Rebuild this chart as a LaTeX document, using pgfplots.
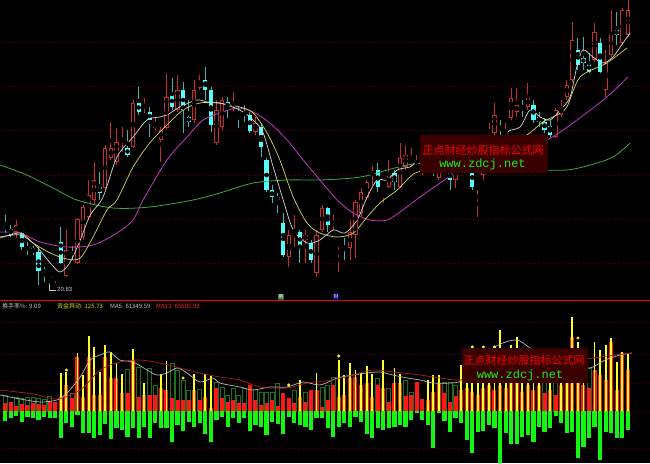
\documentclass[border=0pt]{standalone}
\usepackage{pgfplots}
\pgfplotsset{compat=1.18}
\usepackage{pgfplotstable}
\usepackage{fontspec}
\setmainfont{Liberation Sans}
\newfontfamily\cjk{Noto Sans CJK SC}
\newfontfamily\mono{Liberation Mono}
\definecolor{upred}{RGB}{196,46,46}
\definecolor{dncyan}{RGB}{84,252,252}
\definecolor{wickcyan}{RGB}{64,180,180}
\definecolor{gridred}{RGB}{84,0,0}
\definecolor{maw}{RGB}{215,215,215}
\definecolor{may}{RGB}{215,215,90}
\definecolor{mam}{RGB}{195,55,195}
\definecolor{mag}{RGB}{60,170,60}
\definecolor{vred}{RGB}{255,24,24}
\definecolor{vgreen}{RGB}{20,245,20}
\definecolor{vyel}{RGB}{255,255,40}
\definecolor{voutg}{RGB}{30,110,30}
\definecolor{vmared}{RGB}{170,30,30}
\definecolor{wmbg}{RGB}{58,0,0}
\definecolor{lblgray}{RGB}{200,200,200}

% up (red, hollow) candles: index, high, low, body top, body bottom (pixel rows)
\pgfplotstableread{
x hi lo bt bb
2 220 238 225 232
9 275 283 276 278
11 230 277 250 276
13 218 264 219 263
14 205 240 207 237
15 180 220 195 217
16 162 205 180 200
18 145 190 148 188
19 122 160 148 158
20 128 165 142 162
21 127 152 140 142
23 100 148 103 147
25 98 113 106 107
27 118 130 123 128
28 127 162 130 140
29 73 130 97 128
31 75 112 90 110
34 80 123 90 120
35 75 90 82 88
38 100 145 110 143
39 97 130 100 127
41 92 116 112 115
45 117 135 123 132
51 230 267 235 257
52 215 247 233 237
54 230 263 235 240
56 230 277 235 273
57 205 232 208 230
59 215 230 223 225
60 247 272 252 253
62 220 260 232 248
63 200 258 202 235
64 188 216 192 213
65 180 200 182 198
66 162 185 163 165
68 188 203 190 191
69 160 188 173 187
71 143 188 158 187
72 145 170 155 167
73 148 167 160 163
74 155 170 167 168
75 152 175 160 173
76 148 172 155 168
78 160 180 165 178
79 150 172 160 170
81 160 188 165 180
82 150 170 158 168
83 148 168 155 165
85 190 217 196 198
86 158 180 165 175
87 123 140 132 137
88 103 135 115 133
90 123 140 133 137
91 88 120 98 118
92 88 117 105 112
94 83 110 97 107
99 108 138 110 137
100 100 117 107 115
101 80 100 85 97
102 22 82 40 80
106 23 62 32 60
108 50 97 63 90
109 10 57 32 55
111 8 45 10 43
112 0 37 10 35
}\upc

% down (cyan, filled) candles
\pgfplotstableread{
x hi lo bt bb
0 215 233 226 229
1 225 237 229 235
3 232 250 233 247
4 242 255 247 249
5 246 255 248 252
6 247 285 252 271
7 267 282 270 273
8 275 287 276 278
10 227 264 242 263
12 246 260 252 255
17 172 200 187 193
22 130 157 148 155
24 87 115 103 112
26 107 137 112 120
30 78 110 95 107
32 82 133 90 110
33 100 127 117 122
36 67 100 80 90
37 87 132 90 125
40 97 118 102 108
42 107 128 113 114
43 105 122 113 115
44 112 133 115 131
46 123 157 127 147
47 158 192 160 190
48 185 203 190 197
49 193 213 197 200
50 213 257 223 255
53 230 263 232 247
55 240 263 243 260
58 207 232 208 225
61 238 260 247 248
67 163 192 170 187
70 170 190 173 182
77 165 176 170 173
80 162 190 170 180
84 165 190 168 187
89 120 135 127 130
93 100 117 106 108
95 100 123 105 120
96 112 127 117 122
97 118 133 122 130
98 120 137 126 135
103 38 70 50 65
104 37 70 58 63
105 53 73 63 72
107 38 73 43 72
110 12 45 30 35
}\dnc

% lower panel: green (outflow), red, yellow, dark-green outline
\pgfplotstableread{
x g r yl ol
0 -10 8 nan 16
1 -7 9 nan nan
2 -5 5 nan 14
3 -11 7 nan 13
4 -6 6 nan 14
5 -7 8 nan 14
6 -9 7 nan 13
7 -6 6 nan 12
8 -7 9 nan 15
9 -7 9 nan nan
10 -27 14 38 nan
11 -12 26 39 nan
12 -16 13 nan 18
13 -4 54 58 nan
14 -22 14 36 nan
15 -22 54 75 nan
16 -27 16 64 nan
17 -24 16 39 nan
18 -13 54 66 nan
19 -28 33 59 nan
20 -17 33 48 nan
21 -19 18 37 nan
22 -26 18 nan 42
23 -17 51 62 nan
24 -27 14 nan 44
25 -16 16 28 nan
26 -27 16 nan 43
27 -12 16 nan 26
28 -17 23 37 nan
29 -17 21 50 nan
30 -31 13 nan 48
31 -14 11 nan 41
32 -20 11 nan 31
33 -11 11 nan 21
34 -16 21 37 nan
35 -12 11 nan 22
36 -23 14 37 nan
37 -31 3 35 nan
38 -9 23 nan 29
39 -6 13 nan 24
40 -16 9 nan 16
41 -7 11 nan 23
42 -12 8 nan 16
43 -7 8 nan 23
44 -20 26 nan nan
45 -14 11 nan 22
46 -16 6 nan 19
47 -24 8 nan 19
48 -11 11 nan 19
49 -13 5 nan 28
50 -23 18 nan nan
51 -6 13 nan nan
52 -12 8 nan 21
53 -14 14 31 nan
54 -16 9 nan 19
55 -19 21 nan nan
56 -7 21 38 nan
57 -7 4 nan 24
58 -17 11 nan 26
59 -26 26 nan 34
60 -16 14 51 nan
61 -12 16 36 nan
62 -16 33 48 nan
63 -6 34 41 nan
64 -11 26 38 nan
65 -23 28 45 nan
66 -27 14 37 nan
67 -17 26 nan 33
68 -19 23 51 nan
69 -17 9 nan 23
70 -16 28 43 nan
71 -14 28 37 nan
72 -16 15 nan 31
73 -9 16 nan 19
74 -2 29 nan nan
75 -9 12 nan nan
76 -14 11 31 nan
77 -37 19 36 nan
78 -2 28 36 nan
79 -10 18 nan 29
80 -21 9 nan 29
81 -7 15 nan 26
82 -12 21 46 nan
83 -29 23 56 nan
84 -42 19 61 nan
85 -21 16 51 nan
86 -20 23 59 nan
87 -14 26 53 nan
88 -17 21 61 nan
89 -52 26 81 nan
90 -22 23 56 nan
91 -33 31 66 nan
92 -33 28 74 nan
93 -26 19 56 nan
94 -24 26 63 nan
95 -31 21 53 nan
96 -16 26 46 nan
97 -21 18 nan 39
98 -17 21 43 nan
99 -5 16 nan 33
100 -12 26 49 nan
101 -22 28 53 nan
102 -21 74 94 nan
103 -47 31 69 nan
104 -36 26 61 nan
105 -27 23 nan 43
106 -16 41 69 nan
107 -49 36 61 nan
108 -21 31 66 nan
109 -22 69 73 nan
110 -27 21 49 nan
111 -27 58 59 nan
112 -19 41 58 nan
}\vol

\begin{document}
\begin{tikzpicture}
\useasboundingbox (0,0) rectangle (650pt,463pt);
\fill[black] (0,0) rectangle (650pt,463pt);

% ---------------- price panel ----------------
\begin{axis}[at={(0pt,165pt)}, anchor=south west, scale only axis,
  width=650pt, height=298pt, xmin=-0.935, xmax=115.97, ymin=0, ymax=298,
  y dir=reverse, axis line style={draw=none}, xtick=\empty,
  ytick={42,86,130,175,219,263}, yticklabels={}, major tick length=0pt,
  ymajorgrids, grid style={gridred, line width=0.6pt, dash pattern=on 1pt off 1.5pt}]
% wicks
\addplot[only marks, mark=none, error bars/.cd, y dir=both, y explicit, error mark=none,
  error bar style={draw=upred, line width=0.8pt}]
  table[x=x, y expr={(\thisrow{hi}+\thisrow{lo})/2}, y error expr={(\thisrow{lo}-\thisrow{hi})/2}] {\upc};
\addplot[only marks, mark=none, error bars/.cd, y dir=both, y explicit, error mark=none,
  error bar style={draw=wickcyan, line width=0.8pt}]
  table[x=x, y expr={(\thisrow{hi}+\thisrow{lo})/2}, y error expr={(\thisrow{lo}-\thisrow{hi})/2}] {\dnc};
% bodies
\addplot[only marks, mark=none, error bars/.cd, y dir=both, y explicit, error mark=none,
  error bar style={draw=upred, line width=4.2pt}]
  table[x=x, y expr={(\thisrow{bt}+\thisrow{bb})/2}, y error expr={max((\thisrow{bb}-\thisrow{bt})/2,0.6)}] {\upc};
\addplot[only marks, mark=none, error bars/.cd, y dir=both, y explicit, error mark=none,
  error bar style={draw=black, line width=2.4pt}]
  table[x=x, y expr={(\thisrow{bt}+\thisrow{bb})/2}, y error expr={max((\thisrow{bb}-\thisrow{bt})/2-0.9,0)}] {\upc};
\addplot[only marks, mark=none, error bars/.cd, y dir=both, y explicit, error mark=none,
  error bar style={draw=dncyan, line width=4.2pt}]
  table[x=x, y expr={(\thisrow{bt}+\thisrow{bb})/2}, y error expr={max((\thisrow{bb}-\thisrow{bt})/2,0.6)}] {\dnc};
% moving averages
\addplot[mag, line width=0.8pt, smooth, tension=0.5] coordinates {
(-0.9,165) (3.9,175) (8.6,188) (12.9,200) (19.4,208) (26.0,207) (33.8,200) (38.6,193)
(44.6,183) (50.7,180) (56.6,180) (62.6,178) (65.6,175) (68.7,170) (72.3,165) (74.6,163)
(78.2,165) (83.6,168) (89.0,170) (95.0,170) (101.0,170) (105.2,165) (109.3,157) (112.4,143)};
\addplot[mam, line width=0.8pt, smooth, tension=0.5] coordinates {
(-0.9,232) (2.7,233) (6.3,242) (11.1,247) (15.8,245) (20.1,233) (23.0,220) (24.8,200)
(29.1,160) (32.7,137) (35.6,120) (38.6,113) (41.7,108) (44.6,112) (47.6,123) (50.7,140)
(53.6,160) (56.6,180) (59.7,200) (62.6,213) (65.6,220) (68.7,220) (71.5,210) (74.6,197)
(78.2,183) (81.8,170) (85.4,160) (89.0,152) (92.6,146) (97.4,140) (102.1,123) (108.2,97) (112.0,77)};
\addplot[may, line width=0.7pt, smooth, tension=0.5] coordinates {
(-0.9,238) (2.7,233) (5.0,243) (8.1,253) (11.1,259) (13.5,258) (15.8,237) (18.3,210)
(20.1,200) (23.0,167) (26.0,143) (29.1,125) (32.0,110) (35.0,103) (38.1,103) (42.2,107)
(44.6,113) (47.1,133) (49.4,160) (51.8,197) (54.3,223) (56.6,233) (59.7,237) (62.6,233)
(65.1,217) (67.4,203) (70.5,190) (72.8,177) (74.2,172) (78.2,168) (83.6,160) (89.0,148)
(93.8,135) (96.7,122) (99.2,115) (101.0,107) (103.4,77) (108.2,63) (111.8,48)};
\addplot[maw, line width=0.7pt, smooth, tension=0.5] coordinates {
(-0.9,237) (2.7,235) (5.4,245) (8.1,263) (9.9,272) (11.7,262) (13.5,240) (15.3,215)
(17.6,197) (20.1,157) (23.0,137) (25.5,120) (27.8,117) (29.1,115) (31.4,107) (34.5,100)
(36.3,102) (38.6,103) (42.2,110) (44.6,120) (46.4,133) (48.2,167) (50.0,200) (51.8,230)
(54.3,243) (56.6,240) (59.0,230) (61.1,233) (63.3,220) (65.1,197) (66.9,180) (68.7,180)
(70.5,170) (72.8,167) (74.2,163) (78.2,170) (81.8,165) (85.4,170) (88.1,150) (90.3,132)
(92.6,127) (94.4,110) (96.2,117) (98.0,120) (99.8,110) (101.6,97) (102.8,67) (103.9,50)
(105.7,57) (107.5,63) (109.3,57) (111.1,43) (112.4,33)};
\end{axis}

% ---------------- flow panel ----------------
\begin{axis}[at={(0pt,0pt)}, anchor=south west, scale only axis,
  width=650pt, height=163pt, xmin=-0.935, xmax=115.97, ymin=-52, ymax=111,
  axis line style={draw=none}, xtick=\empty,
  ytick={-37,0,28,57,89}, yticklabels={}, major tick length=0pt,
  ymajorgrids, grid style={gridred, line width=0.6pt, dash pattern=on 1pt off 1.5pt}]
\addplot[ybar, bar width=4pt, bar shift=0pt, draw=voutg, fill=none, line width=0.8pt]
  table[x=x, y=ol] {\vol};
\addplot[ycomb, draw=vgreen, line width=4.2pt] table[x=x, y=g] {\vol};
\addplot[ycomb, draw=vred, line width=4pt] table[x=x, y=r] {\vol};
\addplot[ycomb, draw=vyel, line width=1.8pt] table[x=x, y=yl] {\vol};
\addplot[maw!85!black, line width=0.7pt, smooth, tension=0.5] coordinates {
(-0.9,16) (2.7,12) (6.3,9) (9.3,11) (11.1,18) (13.5,34) (15.3,51) (17.1,56) (18.8,59)
(20.6,51) (23.0,49) (25.5,41) (27.3,36) (29.1,38) (30.9,43) (32.7,38) (35.0,29) (37.4,33)
(38.6,28) (42.2,24) (44.6,21) (47.6,24) (50.7,24) (53.6,29) (56.6,26) (59.7,33) (62.6,36)
(65.1,38) (67.4,39) (69.7,36) (72.3,33) (74.6,31) (77.0,28) (80.0,28) (82.3,31) (85.4,51)
(87.2,61) (89.5,68) (92.1,71) (94.4,63) (97.1,53) (99.8,41) (102.5,46) (105.2,43)
(107.9,51) (110.6,56) (112.7,58)};
\addplot[vmared, line width=0.7pt, smooth, tension=0.5] coordinates {
(-0.9,21) (5.0,17) (9.3,12) (13.5,21) (17.1,41) (20.6,49) (24.2,51) (27.8,48) (31.4,43)
(35.0,38) (38.6,34) (42.2,31) (45.8,24) (50.7,23) (54.3,28) (59.0,31) (62.6,36) (66.1,41)
(69.7,39) (74.6,36) (78.2,33) (81.8,31) (85.4,36) (89.0,41) (92.6,46) (96.2,49) (99.8,49)
(103.4,51) (107.0,54) (112.7,58)};
\addplot[only marks, mark=*, mark size=1.3pt, color=vyel] coordinates {
(11,41) (32,33) (51,26) (60,55) (84,64) (86,64) (88,64) (103,73)};
\end{axis}

% separator
\draw[red, line width=0.8pt] (0pt,163pt) -- (650pt,163pt);

% low label
\draw[lblgray, line width=0.5pt] (49pt,178pt) -- (49pt,173pt) -- (56pt,173pt);
\node[anchor=base west, inner sep=0, text=lblgray, font=\fontsize{6}{7}\selectfont] at (57pt,171pt) {20.83};

% small markers under price panel
\node[anchor=center, inner sep=0.4pt, fill=mag!60!black, text=white, font=\cjk\fontsize{5}{5}\selectfont] at (281pt,166pt) {鹏};
\node[anchor=center, inner sep=0.4pt, fill=blue!50!black, text=white, font=\cjk\fontsize{5}{5}\selectfont] at (336pt,166pt) {财};

% indicator caption
\node[anchor=base west, inner sep=0, text=lblgray, font=\cjk\fontsize{6}{7}\selectfont] at (2pt,154pt) {换手率\%: 9.09};
\node[anchor=base west, inner sep=0, text=vyel!85!black, font=\cjk\fontsize{6}{7}\selectfont] at (57pt,154pt) {资金异动: 125.73};
\node[anchor=base west, inner sep=0, text=lblgray, font=\cjk\fontsize{6}{7}\selectfont] at (110pt,154pt) {MA5: 61349.59};
\node[anchor=base west, inner sep=0, text=red!85!white, font=\cjk\fontsize{6}{7}\selectfont] at (156pt,154pt) {MA13: 65605.93};

% watermarks
\fill[wmbg] (420pt,290pt) rectangle (548pt,328pt);
\node[inner sep=0, text=red, font=\cjk\fontsize{11}{11}\selectfont] at (483pt,313pt) {正点财经炒股指标公式网};
\node[inner sep=0, text=vgreen, font=\mono\fontsize{12}{12}\selectfont] at (482.5pt,299pt) {www.zdcj.net};
\fill[wmbg] (462pt,80pt) rectangle (588pt,115pt);
\node[inner sep=0, text=red, font=\cjk\fontsize{11}{11}\selectfont] at (524pt,103pt) {正点财经炒股指标公式网};
\node[inner sep=0, text=vgreen, font=\mono\fontsize{12}{12}\selectfont] at (520pt,88pt) {www.zdcj.net};
\end{tikzpicture}
\end{document}
